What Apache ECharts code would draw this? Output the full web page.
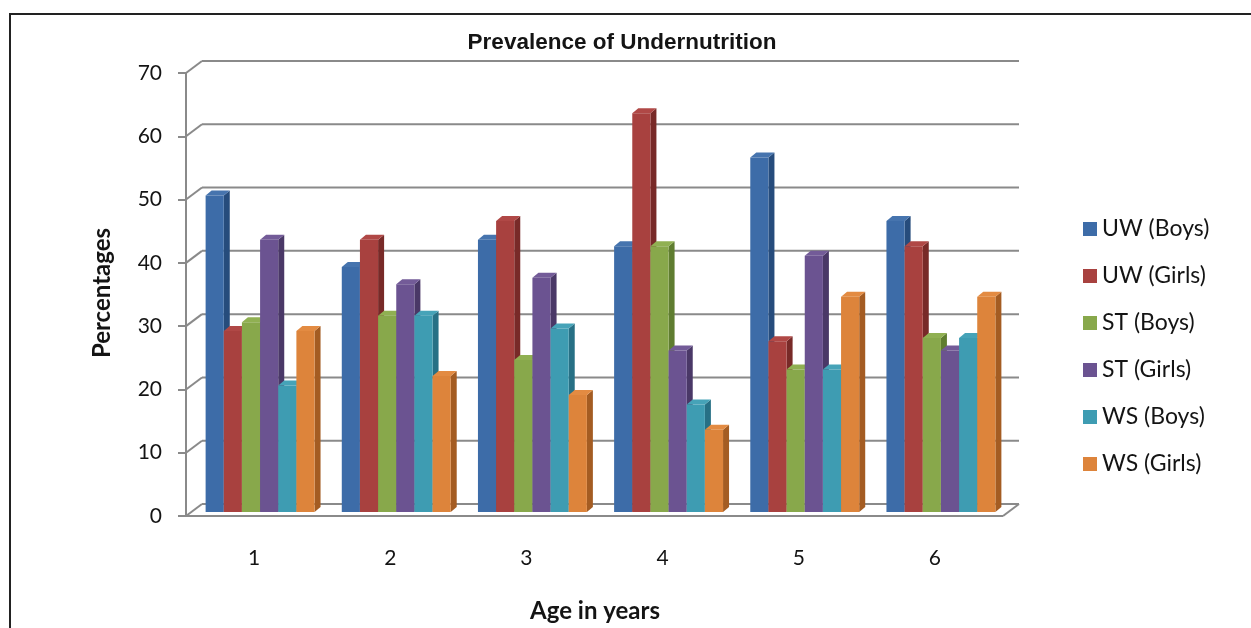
<!DOCTYPE html>
<html>
<head>
<meta charset="utf-8">
<script src="https://cdn.jsdelivr.net/npm/echarts@6/dist/echarts.min.js"></script>
<style>
  html, body { margin: 0; padding: 0; background: #ffffff; }
  #chart { width: 1251px; height: 628px; }
</style>
</head>
<body>
<div id="chart"></div>
<script>
// Age groups on the category axis
const ages = ['1', '2', '3', '4', '5', '6'];

// Prevalence (%) per age group
const uwBoys  = [50, 38.7, 43, 42, 56, 46];
const uwGirls = [28.6, 43, 46, 63, 27, 42];
const stBoys  = [30, 31, 24, 42, 22.5, 27.5];
const stGirls = [43, 36, 37, 25.5, 40.5, 25.5];
const wsBoys  = [20, 31, 29, 17, 22.5, 27.5];
const wsGirls = [28.6, 21.5, 18.5, 13, 34, 34];

const seriesNames = ['UW (Boys)', 'UW (Girls)', 'ST (Boys)', 'ST (Girls)', 'WS (Boys)', 'WS (Girls)'];
const seriesValues = [uwBoys, uwGirls, stBoys, stGirls, wsBoys, wsGirls];

// Value axis ticks
const yTicks = [0, 10, 20, 30, 40, 50, 60, 70];

// Front / top / side shading of each column
const faces = [
  { front: '#3d6ca8', top: '#4674ae', side: '#264c7c' },
  { front: '#a8413f', top: '#b04846', side: '#782a28' },
  { front: '#88a84b', top: '#90b052', side: '#5f7d30' },
  { front: '#6b5391', top: '#735b98', side: '#4a3867' },
  { front: '#3e9cb2', top: '#46a3b8', side: '#277085' },
  { front: '#dd843b', top: '#e38b42', side: '#a45c22' }
];

// Oblique projection of the chart box and of the columns
const WALL_X = 16, WALL_Y = -12;   // back wall offset
const SHIFT_X = 6, SHIFT_Y = -4;   // column front plane offset
const DEPTH_X = 6, DEPTH_Y = -5;   // column depth
const GRID_COLOR = '#8a8a8a';
const TEXT_COLOR = '#141414';

function columnRenderer(slot, face) {
  return function (params, api) {
    const idx = api.value(0);
    const val = api.value(1);
    const top = api.coord([idx, val]);
    const base = api.coord([idx, 0]);
    const band = api.size([1, 0])[0];
    const bw = band * 0.8 / seriesNames.length;
    const x0 = top[0] - band * 0.4 + slot * bw + SHIFT_X;
    const x1 = x0 + bw;
    const yT = top[1] + SHIFT_Y;
    const yB = base[1] + SHIFT_Y;
    return {
      type: 'group',
      children: [
        { type: 'polygon',
          shape: { points: [[x1, yB], [x1 + DEPTH_X, yB + DEPTH_Y], [x1 + DEPTH_X, yT + DEPTH_Y], [x1, yT]] },
          style: { fill: face.side } },
        { type: 'polygon',
          shape: { points: [[x0, yT], [x1, yT], [x1 + DEPTH_X, yT + DEPTH_Y], [x0 + DEPTH_X, yT + DEPTH_Y]] },
          style: { fill: face.top } },
        { type: 'rect',
          shape: { x: x0, y: yT, width: bw, height: yB - yT },
          style: { fill: face.front } }
      ]
    };
  };
}

// Back-wall gridlines with their connectors to the front axis, plus the floor
function wallRenderer(params, api) {
  const v = api.value(1);
  const cs = params.coordSys;
  const y = api.coord([0, v])[1];
  const xl = cs.x, xr = cs.x + cs.width;
  const st = { stroke: GRID_COLOR, lineWidth: 2 };
  const children = [
    { type: 'line', shape: { x1: xl, y1: y, x2: xl + WALL_X, y2: y + WALL_Y }, style: st },
    { type: 'line', shape: { x1: xl + WALL_X, y1: y + WALL_Y, x2: xr + WALL_X, y2: y + WALL_Y }, style: st }
  ];
  if (v === 0) {
    children.push(
      { type: 'line', shape: { x1: xl, y1: y, x2: xr, y2: y }, style: st },
      { type: 'line', shape: { x1: xr, y1: y, x2: xr + WALL_X, y2: y + WALL_Y }, style: st }
    );
  }
  return { type: 'group', children: children };
}

const chart = echarts.init(document.getElementById('chart'), null, { renderer: 'canvas' });

const series = [{
  type: 'custom',
  name: 'wall',
  silent: true,
  z: 1,
  renderItem: wallRenderer,
  encode: { x: 0, y: 1 },
  data: yTicks.map(v => [0, v])
}];
seriesNames.forEach((name, s) => {
  series.push({
    type: 'custom',
    name: name,
    z: 2,
    itemStyle: { color: faces[s].front },
    renderItem: columnRenderer(s, faces[s]),
    encode: { x: 0, y: 1 },
    data: seriesValues[s].map((v, i) => [i, v])
  });
});

chart.setOption({
  animation: false,
  backgroundColor: '#ffffff',
  grid: { left: 186, right: 248, top: 73, bottom: 112 },
  xAxis: {
    type: 'category',
    data: ages,
    axisLine: { show: false },
    axisTick: { show: false },
    splitLine: { show: false },
    axisLabel: { margin: 32, fontFamily: 'Lato', fontSize: 21, color: TEXT_COLOR }
  },
  yAxis: {
    type: 'value',
    min: 0, max: 70, interval: 10,
    axisLine: { show: true, lineStyle: { color: GRID_COLOR, width: 2 } },
    axisTick: { show: true, length: 8, lineStyle: { color: GRID_COLOR, width: 2 } },
    splitLine: { show: false },
    axisLabel: { margin: 24, fontFamily: 'Lato', fontSize: 21, color: TEXT_COLOR }
  },
  legend: {
    orient: 'vertical',
    left: 1078, top: 212,
    data: seriesNames,
    icon: 'rect',
    itemWidth: 14, itemHeight: 14,
    itemGap: 23,
    textStyle: { fontFamily: 'Lato', fontSize: 23, lineHeight: 24, color: TEXT_COLOR, padding: [0, 0, 0, 0] }
  },
  graphic: [
    { type: 'rect', silent: true, z: 0,
      shape: { x: 10, y: 14, width: 1400, height: 800 },
      style: { fill: null, stroke: '#222222', lineWidth: 2 } },
    { type: 'text', x: 622, y: 43, z: 5,
      style: { text: 'Prevalence of Undernutrition', fontFamily: 'Liberation Sans', fontWeight: 'bold',
               fontSize: 22.5, fill: TEXT_COLOR, textAlign: 'center', textVerticalAlign: 'middle' } },
    { type: 'text', x: 102, y: 293, rotation: Math.PI / 2, z: 5,
      style: { text: 'Percentages', fontFamily: 'Lato', fontWeight: 'bold',
               fontSize: 24, fill: TEXT_COLOR, textAlign: 'center', textVerticalAlign: 'middle' } },
    { type: 'text', x: 595, y: 611, z: 5,
      style: { text: 'Age in years', fontFamily: 'Lato', fontWeight: 'bold',
               fontSize: 24, fill: TEXT_COLOR, textAlign: 'center', textVerticalAlign: 'middle' } }
  ],
  series: series
});
</script>
</body>
</html>
